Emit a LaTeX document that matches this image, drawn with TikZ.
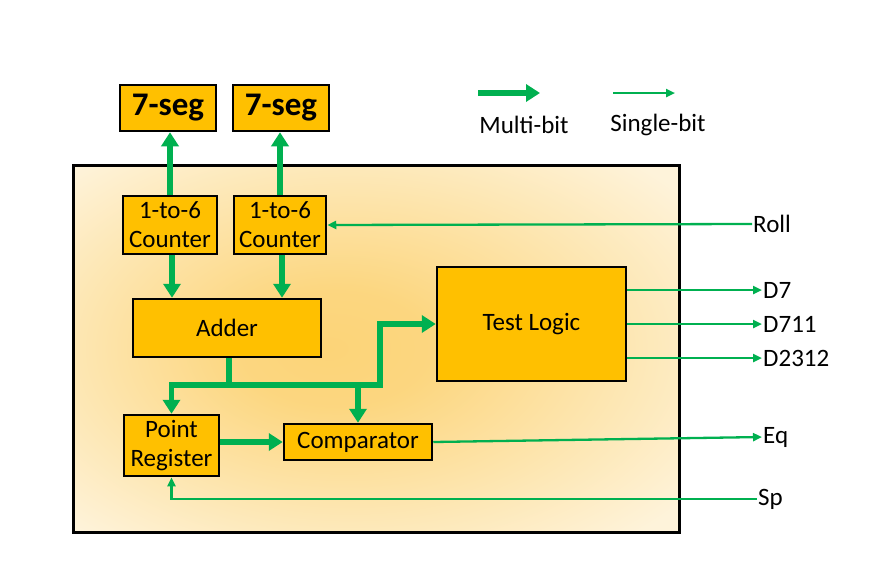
\documentclass[tikz,border=0pt]{standalone}
\usepackage{fontspec}
\setmainfont{Carlito}
\usetikzlibrary{arrows.meta,calc}
\definecolor{gold}{RGB}{255,192,0}
\definecolor{grn}{RGB}{0,176,80}
\definecolor{bgin}{RGB}{252,212,120}
\definecolor{bgout}{RGB}{254,243,218}
\pgfdeclareradialshading{bgshade}{\pgfpoint{-4bp}{0bp}}{color(0bp)=(bgin); color(8bp)=(bgin!92!bgout); color(34bp)=(bgout); color(50bp)=(bgout)}
\tikzset{
  blk/.style={draw=black, line width=2.5pt, fill=gold, inner sep=0pt, align=center, font=\fontsize{25}{25}\selectfont},
  segbox/.style={blk, font=\fontsize{33}{33}\selectfont\bfseries},
  twoline/.style={font=\fontsize{25}{29}\selectfont},
  lbl/.style={anchor=west, inner sep=1pt, font=\fontsize{25}{27}\selectfont},
  multi/.style={draw=grn, line width=5.5pt, -{Triangle[width=17pt,length=14pt]}},
  multiline/.style={draw=grn, line width=5.5pt},
  single/.style={draw=grn, line width=2.3pt, -{Triangle[width=8pt,length=9pt]}}
}
\begin{document}
\begin{tikzpicture}[x=1pt,y=-1pt]
\useasboundingbox (0,0) rectangle (886,560);
% outer box
\shade[shading=bgshade] (73,165) rectangle (679,532);
\draw[line width=3pt] (73,165) rectangle (679,532);

% blocks
\node[segbox, minimum width=96pt, minimum height=46pt] (seg1) at (168,108) {7-seg};
\node[segbox, minimum width=96pt, minimum height=46pt] (seg2) at (281,108) {7-seg};
\node[blk, twoline, minimum width=94pt, minimum height=58pt] (cnt1) at (170,225) {1-to-6\\Counter};
\node[blk, twoline, minimum width=92pt, minimum height=58pt] (cnt2) at (280,225) {1-to-6\\Counter};
\node[blk, minimum width=188pt, minimum height=58pt] (adder) at (227,328) {Adder};
\node[blk, minimum width=189pt, minimum height=114pt] (tl) at (531.5,324) {Test Logic};
\node[blk, twoline, minimum width=95pt, minimum height=61pt] (preg) at (171.5,445.5) {Point\\Register};
\node[blk, minimum width=148pt, minimum height=36pt] (comp) at (358,442) {Comparator};

% labels
\node[lbl] (roll) at (752,224) {Roll};
\node[lbl] (d7) at (762,290) {D7};
\node[lbl] (d711) at (762,324) {D711};
\node[lbl] (d2312) at (762,358) {D2312};
\node[lbl] (eq) at (762,437) {Eq};
\node[lbl] (sp) at (757,499) {Sp};

% legend
\coordinate (m1) at (478,93);
\coordinate (m2) at (540,93);
\coordinate (s1) at (613,93);
\coordinate (s2) at (675,93);
\draw[multi] (m1) -- (m2);
\draw[single] (s1) -- (s2);
\node[font=\fontsize{25}{27}\selectfont] (mlab) at (524,125) {Multi-bit};
\node[font=\fontsize{25}{27}\selectfont] (slab) at (658,125) {Single-bit};

% counters to 7-seg
\draw[multi] (cnt1.north) -- (cnt1.north |- seg1.south);
\draw[multi] (cnt2.north) -- (cnt2.north |- seg2.south);
% counters to adder
\draw[multi] ([xshift=2pt]cnt1.south) -- ([xshift=2pt]cnt1.south |- adder.north);
\draw[multi] ([xshift=2pt]cnt2.south) -- ([xshift=2pt]cnt2.south |- adder.north);
% roll
\draw[single] (roll.west) -- (cnt2.east);
% adder output bus
\coordinate (junc) at (229,385);
\coordinate (bend) at (380,385);
\draw[multiline] ([xshift=2pt]adder.south) -- (junc);
\draw[multi] (junc) -| (preg.north);
\draw[multi] (junc) -| (comp.north);
\draw[multi] (junc) -- (bend) |- (tl.west);
% point register to comparator
\draw[multi] (preg.east |- comp.west) -- (comp.west);
% test logic outputs
\draw[single] (tl.east |- d7.west) -- (d7.west);
\draw[single] (tl.east |- d711.west) -- (d711.west);
\draw[single] (tl.east |- d2312.west) -- (d2312.west);
% eq
\draw[single] (comp.east) -- (eq.west);
% sp
\draw[single] (sp.west) -| (preg.south);
\end{tikzpicture}
\end{document}
